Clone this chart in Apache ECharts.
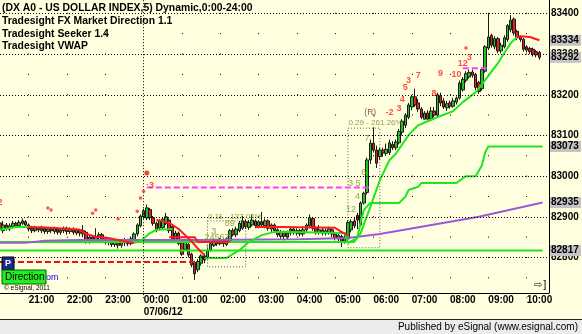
<!DOCTYPE html>
<html><head><meta charset="utf-8">
<script src="https://cdn.jsdelivr.net/npm/echarts@6/dist/echarts.min.js"></script>
<style>html,body{margin:0;padding:0;background:#ffffe0}#c{width:582px;height:334px}</style>
</head><body><div id="c"></div>
<script>
// ---------- DATA ----------
const titleLines = ['(DX A0 - US DOLLAR INDEX,5) Dynamic,0:00-24:00','Tradesight FX Market Direction 1.1','Tradesight Seeker 1.4','Tradesight VWAP'];
const startTime = '20:15';
const barCount = 173;
const dateLabel = '07/06/12';
const priceTicks = [82800, 82900, 83000, 83100, 83200, 83300, 83400];

const open = [82885,82866,82880,82870,82876,82884,82878,82884,82888,82880, 82872,82866,82872,82866,82872,82864,82870,82864,82870,82862, 82866,82872,82864,82870,82860,82868,82858,82862,82838,82850, 82840,82850,82856,82846,82838,82844,82832,82840,82830,82836, 82842,82834,82844,82858,82878,82900,82897,82918,82898,82884, 82872,82874,82884,82892,82876,82844,82860,82842,82820,82832, 82808,82788,82770,82786,82804,82800,82818,82830,82842,82834, 82842,82832,82840,82866,82856,82866,82872,82888,82874,82880, 82890,82878,82888,82878,82890,82870,82880,82868,82852,82862, 82850,82860,82870,82860,82866,82858,82868,82878,82896,82872, 82862,82868,82860,82862,82868,82858,82846,82852,82840,82846, 82868,82890,82904,82880,82934,82960,83040,83081,83064,83048, 83064,83056,83058,83078,83070,83082,83108,83125,83145,83170, 83195,83180,83165,83140,83155,83140,83160,83150,83198,83185, 83168,83180,83172,83182,83192,83212,83236,83244,83256,83250, 83230,83215,83258,83315,83346,83318,83338,83308,83318,83336, 83360,83386,83356,83342,83336,83318,83314,83312,83306,83304];
const close = [82868,82880,82872,82878,82884,82878,82886,82890,82880,82870, 82866,82872,82868,82872,82864,82870,82866,82872,82862,82868, 82872,82864,82870,82862,82868,82860,82866,82838,82850,82840, 82852,82856,82846,82838,82844,82832,82838,82830,82838,82842, 82834,82846,82858,82880,82902,82915,82922,82898,82884,82868, 82890,82894,82900,82866,82844,82860,82834,82808,82840,82806, 82782,82760,82790,82804,82794,82818,82834,82842,82834,82842, 82834,82846,82866,82856,82870,82884,82890,82876,82886,82892, 82878,82888,82880,82890,82872,82880,82866,82856,82862,82852, 82860,82870,82862,82866,82858,82868,82880,82898,82872,82862, 82868,82860,82866,82870,82858,82848,82854,82840,82850,82886, 82888,82878,82892,82934,82958,83040,83081,83064,83032,83064, 83057,83066,83082,83070,83084,83110,83135,83150,83175,83195, 83175,83165,83145,83155,83140,83160,83150,83200,83180,83170, 83178,83172,83185,83192,83229,83238,83252,83255,83248,83218, 83208,83262,83318,83342,83322,83338,83308,83322,83340,83370, 83383,83352,83340,83336,83312,83310,83306,83300,83298,83292];
const high = [82892,82890,82885,82884,82890,82888,82892,82896,82892,82884, 82878,82878,82876,82878,82876,82875,82874,82876,82874,82872, 82876,82876,82874,82874,82872,82870,82880,82866,82856,82855, 82872,82862,82860,82850,82850,82848,82844,82844,82842,82848, 82846,82852,82862,82884,82906,82920,82930,82922,82902,82888, 82894,82898,82910,82896,82880,82866,82864,82846,82846,82836, 82812,82792,82796,82808,82810,82824,82840,82846,82846,82848, 82846,82850,82870,82872,82876,82890,82902,82894,82892,82906, 82894,82892,82912,82896,82894,82884,82884,82872,82868,82866, 82866,82874,82876,82872,82870,82874,82884,82906,82900,82876, 82880,82872,82872,82876,82872,82862,82858,82856,82856,82892, 82894,82900,82910,82938,82962,83046,83090,83120,83075,83070, 83070,83080,83090,83086,83090,83116,83140,83155,83180,83200, 83215,83190,83170,83160,83162,83170,83170,83205,83205,83192, 83185,83186,83192,83196,83235,83244,83258,83262,83262,83254, 83234,83266,83322,83400,83350,83344,83342,83328,83346,83374, 83396,83390,83360,83346,83340,83322,83318,83316,83310,83308];
const low = [82860,82860,82866,82865,82872,82874,82875,82880,82876,82864, 82860,82862,82862,82860,82858,82858,82860,82858,82856,82856, 82860,82856,82858,82856,82855,82852,82850,82834,82834,82836, 82836,82844,82840,82832,82830,82826,82826,82822,82824,82828, 82828,82830,82840,82852,82874,82895,82892,82892,82878,82862, 82866,82870,82880,82860,82840,82838,82830,82804,82816,82800, 82776,82745,82764,82780,82786,82796,82814,82826,82828,82830, 82826,82828,82836,82852,82850,82862,82868,82870,82868,82876, 82872,82872,82876,82872,82866,82862,82860,82850,82846,82842, 82844,82854,82856,82854,82852,82852,82862,82872,82866,82856, 82856,82854,82854,82856,82850,82842,82838,82826,82834,82840, 82862,82872,82870,82876,82930,82955,83030,83058,83020,83040, 83048,83050,83052,83064,83064,83078,83100,83118,83140,83162, 83170,83158,83140,83140,83140,83135,83145,83145,83172,83165, 83160,83166,83168,83176,83188,83208,83230,83240,83242,83212, 83202,83210,83254,83310,83316,83312,83302,83302,83314,83330, 83354,83346,83334,83330,83306,83304,83300,83294,83292,83286];

// Seeker trailing stop (green below price / red above price): [barIndex, price]
const stopGreenA = [[0,82868],[5,82875],[9,82875]];
const stopRedA = [[9,82875],[16,82873],[25,82868],[27,82858],[30,82851],[34,82848],[40,82838],[42,82836]];
const stopGreenB = [[42,82836],[44,82840],[47,82860],[49,82868],[54,82870]];
const stopRedB = [[49,82892],[53,82885],[56,82870],[58,82855],[60,82840],[62,82822],[64,82806]];
const stopGreenC = [[64,82799],[71,82799],[75,82818],[78,82838],[82,82855],[86,82863],[91,82863],[108,82860],[109,82836],[112,82848],[113,82860],[116,82924],[119,82990],[122,83039],[124,83055],[128,83101],[131,83125],[134,83135],[138,83148],[142,83160],[145,83182],[149,83206],[152,83236],[156,83278],[160,83327],[162,83342]];
const stopRedC = [[162,83342],[163,83344],[166,83342],[169,83334]];
const stopRedD = [[80,82875],[88,82875],[105,82873],[107,82863],[109,82855]];
// Market direction line
const mdGreen = [[0,82838],[111,82838],[112,82851],[113,82887],[114,82917],[116,82934],[125,82934],[127,82949],[128,82966],[131,82974],[132,82983],[143,82983],[145,82995],[146,83000],[149,83000],[151,83027],[152,83059],[153,83073],[170,83073]];
const mdRed = [[53,82850],[61,82850],[62,82838],[72,82838]];
const levelLine = [[0,82817],[170,82817]];
// VWAP
const vwap = [[0,82836],[8,82836],[14,82841],[25,82843],[62,82843],[94,82845],[109,82848],[119,82858],[128,82870],[150,82900],[170,82935]];
// dashed levels
const pivotLine = [[0,82789],[62,82789]];
const magentaA = [[46,82972],[116,82972]];
const magentaB = [[145,83265],[153,83265]];
// dotted boxes [[i1,p1],[i2,p2]]
const boxes = [[[65,82890],[77,82777]], [[109,83118],[119,82824]]];
// right axis tags
const tagValues = [83334, 83292, 83073, 82935, 82817];
// seeker dots
const seekerDots = [[15,82922],[16,82917],[29,82909],[30,82917],[37,82895],[43,82914],[44,82946],[45,82963],[146,83315]];
const seekerBigDots = [[46,83008]];
// labels
const redLabels = [[0,82936,'2'],[47,82976,'·3'],[122,83157,'-2'],[125,83167,'3'],[126,83189,'4'],[127,83219,'5'],[128,83234,'3'],[131,83248,'7'],[136,83204,'8'],[138,83253,'9'],[143,83251,'10'],[145,83278,'12'],[147,83292,'3']];
const oliveLabels = [[110,82917,'12'],[112,82949,'4'],[111,82983,'3 5'],[114,83010,'6'],[115,83093,'7'],[67,82865,'3'],[68,82850,'24567'],[65,82823,'1'],[72,82884,'89']];
const boxCaptions = [[65,82900,'0.11 - 137.04%'],[109,83130,'0.29 - 261.26%']];
const rLabel = [[116,83155,'(R)']];

// ---------- BUILD ----------
const FONT = '"Liberation Sans", Arial, sans-serif';
function pad(n){return (n<10?'0':'')+n;}
const categories = [];
(function(){const p=startTime.split(':');let m=(+p[0])*60+(+p[1]);for(let k=0;k<barCount;k++){const t=(m+5*k)%1440;categories.push(pad(Math.floor(t/60))+':'+pad(t%60));}})();
const midnightIndex = categories.indexOf('00:00');

const GREEN = '#1ee61e', RED = '#ff1a1a', PURPLE = '#9b59d6', OLIVE = '#6f8f1a';
function lineS(data, color, width, type, z){
  return {type:'line', data:data, symbol:'none', silent:true, lineStyle:{color:color, width:width, type:type||'solid'}, z:z||3, animation:false};
}
const series = [];
series.push({type:'line', data:[], z:1, silent:true,
  markLine:{silent:true, symbol:'none', animation:false, label:{show:false},
    lineStyle:{color:'#000', width:1, type:[1,2]},
    data: [{xAxis: midnightIndex}].concat(priceTicks.map(v=>({yAxis:v})))}});
series.push({type:'candlestick', z:2, barWidth:3, silent:true,
  data: open.map((o,k)=>[o, close[k], low[k], high[k]]),
  itemStyle:{color:'#22c022', color0:'#e02020', borderColor:'#1a1a1a', borderColor0:'#1a1a1a', borderWidth:1},
  markArea:{silent:true, itemStyle:{color:'rgba(0,0,0,0)', borderColor:'#555', borderWidth:1, borderType:[1,2]},
    data: boxes.map(b=>[{coord:b[0]},{coord:b[1]}])}});
series.push(lineS(levelLine, GREEN, 2));
series.push(lineS(mdGreen, GREEN, 2));
series.push(lineS(vwap, PURPLE, 2));
series.push(lineS(mdRed, RED, 2));
series.push(lineS(stopGreenA, GREEN, 2));
series.push(lineS(stopRedA, RED, 2));
series.push(lineS(stopGreenB, GREEN, 2));
series.push(lineS(stopRedB, RED, 2));
series.push(lineS(stopGreenC, GREEN, 2));
series.push(lineS(stopRedC, RED, 2));
series.push(lineS(stopRedD, RED, 2));
series.push(lineS(pivotLine, '#ee1111', 2, [6,3]));
series.push(lineS(magentaA, '#ff3cff', 2, [6,3]));
series.push(lineS(magentaB, '#ff3cff', 2, [6,3]));
series.push({type:'scatter', data:seekerDots, symbol:'circle', symbolSize:3.5, itemStyle:{color:'#ff2a2a'}, z:5, silent:true});
series.push({type:'scatter', data:seekerBigDots, symbol:'circle', symbolSize:5, itemStyle:{color:'#ee1111'}, z:5, silent:true});
function labelS(items, color, size, pos, weight){
  return {type:'scatter', symbolSize:1, itemStyle:{color:'rgba(0,0,0,0)'}, z:6, silent:true,
    data: items.map(a=>({value:[a[0],a[1]], label:{formatter:a[2]}})),
    label:{show:true, position:pos||'inside', distance:0, color:color, fontSize:size, fontFamily:FONT, fontWeight:weight||'normal'}};
}
series.push(labelS(redLabels, '#ff2020', 9, 'inside', 'bold'));
series.push(labelS(oliveLabels, OLIVE, 9));
series.push(labelS(boxCaptions, OLIVE, 8, 'right'));
series.push(labelS(rLabel, '#7a1a1a', 8.5));

const option = {
  animation:false,
  backgroundColor:'#ffffe0',
  grid:{left:0, right:33, top:0, bottom:35.8},
  xAxis:{type:'category', data:categories, boundaryGap:false, offset:-5,
    axisLine:{show:true, lineStyle:{color:'#000', width:1}}, axisTick:{show:false},
    axisLabel:{interval:(i,v)=>v.endsWith(':00'), align:'left', margin:1, color:'#000', fontWeight:'bold', fontSize:10, fontFamily:FONT, lineHeight:12,
      formatter:v=> v==='00:00' ? v+'\n'+dateLabel : v},
    splitLine:{show:true, interval:(i,v)=>v.endsWith(':00') && v!=='00:00', lineStyle:{color:'#000', width:1, type:[1,19.35], dashOffset:7.55}}},
  yAxis:{type:'value', position:'right', min:82700, max:83433, interval:100,
    axisLine:{show:false}, axisTick:{show:false}, splitLine:{show:false},
    axisLabel:{margin:2, color:'#000', fontWeight:'bold', fontSize:10, fontFamily:FONT,
      formatter:v=> (priceTicks.indexOf(v)>=0) ? String(v) : ''}},
  series:series
};
const chart = echarts.init(document.getElementById('c'), null, {renderer:'canvas'});
chart.setOption(option);

// ---------- decorations ----------
const g = [];
titleLines.forEach((t,k)=>{
  g.push({type:'text', z:50, style:{x:2, y:[8,21,34,46][k], text:t, font:'bold 10.4px '+FONT, fill:'#000', textVerticalAlign:'middle', verticalAlign:'middle'}});
});
g.push({type:'line', z:50, shape:{x1:549.5, y1:0, x2:549.5, y2:293}, style:{stroke:'#000', lineWidth:1}});
g.push({type:'rect', z:50, shape:{x:2, y:257, width:12, height:13}, style:{fill:'#1c2a8c', stroke:'#000', lineWidth:1}});
g.push({type:'text', z:51, style:{x:8, y:264, text:'P', font:'bold 9px '+FONT, fill:'#fff', textAlign:'center', align:'center', textVerticalAlign:'middle', verticalAlign:'middle'}});
g.push({type:'text', z:50, style:{x:46, y:278, text:'om', font:'9px '+FONT, fill:'#0000ee', textVerticalAlign:'middle', verticalAlign:'middle'}});
g.push({type:'rect', z:51, shape:{x:2, y:270, width:44, height:14}, style:{fill:'#22ee22', stroke:'#0a5a0a', lineWidth:1}});
g.push({type:'text', z:52, style:{x:5, y:277.5, text:'Direction', font:'10px '+FONT, fill:'#000', textVerticalAlign:'middle', verticalAlign:'middle'}});
g.push({type:'text', z:50, style:{x:4, y:288, text:'© eSignal, 2011', font:'6.5px '+FONT, fill:'#000', textVerticalAlign:'middle', verticalAlign:'middle'}});
g.push({type:'text', z:50, style:{x:534, y:285, text:'⇨]', font:'10px "DejaVu Sans"', fill:'#000', textVerticalAlign:'middle', verticalAlign:'middle'}});
g.push({type:'rect', z:50, shape:{x:0, y:320, width:582, height:14}, style:{fill:'#ececec'}});
g.push({type:'line', z:51, shape:{x1:0, y1:319.5, x2:582, y2:319.5}, style:{stroke:'#222', lineWidth:1}});
g.push({type:'text', z:52, style:{x:578, y:327.5, text:'Published by eSignal (www.esignal.com)', font:'10px '+FONT, fill:'#000', textAlign:'right', align:'right', textVerticalAlign:'middle', verticalAlign:'middle'}});
tagValues.forEach(v=>{
  const y = chart.convertToPixel({yAxisIndex:0}, v);
  g.push({type:'rect', z:60, shape:{x:550, y:y-5.5, width:31, height:11}, style:{fill:'#c4c4c4'}});
  g.push({type:'text', z:61, style:{x:551, y:y, text:String(v), font:'bold 10px '+FONT, fill:'#000', textVerticalAlign:'middle', verticalAlign:'middle'}});
});
chart.setOption({graphic:g});
</script></body></html>
